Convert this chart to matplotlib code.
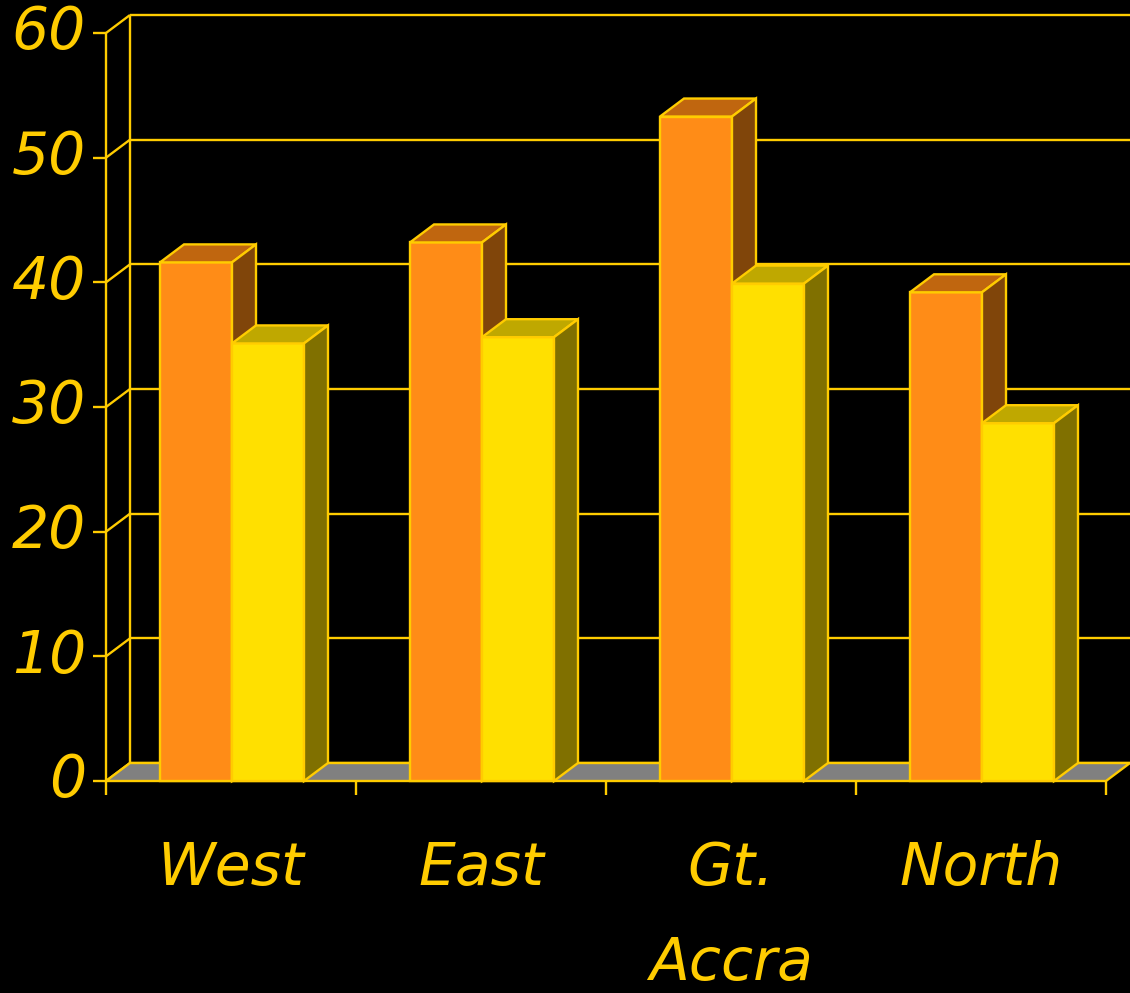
import matplotlib.pyplot as plt
from matplotlib.patches import Polygon

# data
regions = ['West', 'East', 'Gt.\nAccra', 'North']
series_orange = [41.6, 43.2, 53.3, 39.2]
series_yellow = [35.1, 35.6, 39.9, 28.7]
y_ticks = [0, 10, 20, 30, 40, 50, 60]

W, H = 1130, 993
LINE = '#FFCC00'
LW = 1.7

fig = plt.figure(figsize=(W / 100, H / 100), dpi=100, facecolor='black')
ax = fig.add_axes([106 / W, (H - 781) / H, (1130 - 106) / W, (781 - 15) / H])
ax.set_facecolor('black')
ax.axis('off')

n = len(regions)
ymax = y_ticks[-1]
px_y = (781 - 15) / (ymax + 18 / 12.467)   # pixels per value unit
dx = 24 / 250                              # depth offset in category units
dy = 18 / px_y                             # depth offset in value units
ax.set_xlim(0, n + dx)
ax.set_ylim(0, ymax + dy)

def line(xs, ys, z=1):
    ax.plot(xs, ys, color=LINE, lw=LW, clip_on=False, zorder=z,
            solid_capstyle='butt')

# back wall gridlines, side wall diagonals and y ticks
tick_len = 13 / 250
for v in y_ticks:
    line([dx, n + dx], [v + dy, v + dy])
    line([0, dx], [v, v + dy])
    line([-tick_len, 0], [v, v])
    ax.text(-20 / 250, v, str(v), ha='right', va='center', fontsize=42,
            style='italic', color=LINE, clip_on=False)
line([0, 0], [0, ymax])
line([dx, dx], [dy, ymax + dy])

# floor
floor = Polygon([(0, 0), (n, 0), (n + dx, dy), (dx, dy)], closed=True,
                facecolor='#808080', edgecolor=LINE, lw=LW, zorder=2,
                clip_on=False)
ax.add_patch(floor)

# category ticks
for i in range(n + 1):
    line([i, i], [0, -14 / px_y], z=2)

def bar3d(x0, w, h, front, top, side):
    faces = [
        ([(x0, 0), (x0 + w, 0), (x0 + w, h), (x0, h)], front),
        ([(x0, h), (x0 + w, h), (x0 + w + dx, h + dy), (x0 + dx, h + dy)], top),
        ([(x0 + w, 0), (x0 + w + dx, dy), (x0 + w + dx, h + dy), (x0 + w, h)], side),
    ]
    for pts, c in faces:
        ax.add_patch(Polygon(pts, closed=True, facecolor=c, edgecolor=LINE,
                             lw=LW, zorder=3, clip_on=False))

bw = 72 / 250
off = 54 / 250
for i in range(n):
    bar3d(i + off, bw, series_orange[i], '#FF8C17', '#C0660F', '#80450A')
    bar3d(i + off + bw, bw, series_yellow[i], '#FFE000', '#BFA800', '#807000')
    ax.text(i + 0.5, (781 - 840) / px_y, regions[i], ha='center', va='top',
            fontsize=42, style='italic', color=LINE, linespacing=1.85,
            clip_on=False)

fig.savefig('out.png', dpi=100, facecolor='black')
